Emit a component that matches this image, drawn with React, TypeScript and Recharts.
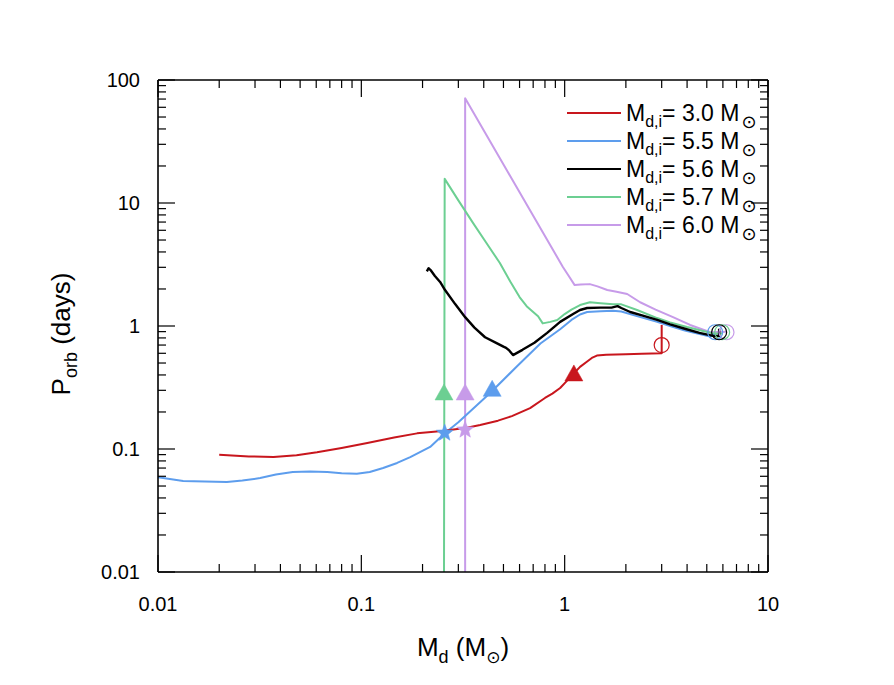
import React from 'react';
import { ComposedChart, Line, Scatter, XAxis, YAxis, Legend } from 'recharts';

const FONT = '"Liberation Sans", Arial, "DejaVu Sans", sans-serif';

// ---- tick values ----
const xTicks = [0.01, 0.02, 0.03, 0.04, 0.05, 0.06, 0.07, 0.08, 0.09, 0.1, 0.2, 0.3, 0.4, 0.5, 0.6, 0.7, 0.8, 0.9, 1, 2, 3, 4, 5, 6, 7, 8, 9, 10];
const yTicks = [0.01, 0.02, 0.03, 0.04, 0.05, 0.06, 0.07, 0.08, 0.09, 0.1, 0.2, 0.3, 0.4, 0.5, 0.6, 0.7, 0.8, 0.9, 1, 2, 3, 4, 5, 6, 7, 8, 9, 10, 20, 30, 40, 50, 60, 70, 80, 90, 100];

// ---- legend ----
const legendMasses = ['3.0', '5.5', '5.6', '5.7', '6.0'];
const seriesColors = ['#c8161d', '#5d9ded', '#000000', '#6ccf92', '#c79be9'];

// ---- tracks (Md [Msun], Porb [days]) ----
const track30 = [
  { x: 3.0, y: 1.02 }, { x: 3.0, y: 0.7 }, { x: 3.0, y: 0.6 }, { x: 2.4, y: 0.595 }, { x: 2.0, y: 0.59 },
  { x: 1.6, y: 0.585 }, { x: 1.44, y: 0.575 }, { x: 1.36, y: 0.55 }, { x: 1.3, y: 0.52 }, { x: 1.19, y: 0.465 },
  { x: 1.1, y: 0.405 }, { x: 1.02, y: 0.355 }, { x: 0.95, y: 0.313 }, { x: 0.87, y: 0.282 }, { x: 0.8, y: 0.26 },
  { x: 0.676, y: 0.215 }, { x: 0.55, y: 0.185 }, { x: 0.47, y: 0.17 }, { x: 0.384, y: 0.157 }, { x: 0.33, y: 0.149 },
  { x: 0.25, y: 0.14 }, { x: 0.188, y: 0.134 }, { x: 0.145, y: 0.124 }, { x: 0.107, y: 0.112 }, { x: 0.08, y: 0.102 },
  { x: 0.0605, y: 0.094 }, { x: 0.048, y: 0.089 }, { x: 0.037, y: 0.086 }, { x: 0.028, y: 0.087 }, { x: 0.02, y: 0.09 },
];
const track55 = [
  { x: 5.5, y: 0.86 }, { x: 5.2, y: 0.82 }, { x: 4.5, y: 0.87 }, { x: 3.9, y: 0.92 }, { x: 3.3, y: 1.0 },
  { x: 2.85, y: 1.08 }, { x: 2.2, y: 1.22 }, { x: 1.9, y: 1.31 }, { x: 1.73, y: 1.33 }, { x: 1.5, y: 1.32 },
  { x: 1.29, y: 1.3 }, { x: 1.19, y: 1.24 }, { x: 1.08, y: 1.12 }, { x: 0.95, y: 0.94 }, { x: 0.76, y: 0.72 },
  { x: 0.59, y: 0.48 }, { x: 0.43, y: 0.285 }, { x: 0.3, y: 0.165 }, { x: 0.258, y: 0.135 }, { x: 0.218, y: 0.104 },
  { x: 0.174, y: 0.086 }, { x: 0.15, y: 0.077 }, { x: 0.128, y: 0.07 }, { x: 0.11, y: 0.065 }, { x: 0.095, y: 0.063 },
  { x: 0.08, y: 0.0635 }, { x: 0.068, y: 0.065 }, { x: 0.056, y: 0.0655 }, { x: 0.046, y: 0.065 }, { x: 0.038, y: 0.062 },
  { x: 0.0318, y: 0.058 }, { x: 0.026, y: 0.0555 }, { x: 0.0218, y: 0.054 }, { x: 0.017, y: 0.0545 }, { x: 0.0133, y: 0.055 },
  { x: 0.01, y: 0.059 },
];
const track56 = [
  { x: 5.75, y: 0.95 }, { x: 5.75, y: 0.83 }, { x: 5.37, y: 0.83 }, { x: 4.6, y: 0.88 }, { x: 3.9, y: 0.95 },
  { x: 3.3, y: 1.03 }, { x: 2.85, y: 1.12 }, { x: 2.4, y: 1.22 }, { x: 2.1, y: 1.3 }, { x: 1.9, y: 1.4 },
  { x: 1.82, y: 1.45 }, { x: 1.7, y: 1.41 }, { x: 1.5, y: 1.41 }, { x: 1.29, y: 1.4 }, { x: 1.19, y: 1.35 },
  { x: 1.1, y: 1.25 }, { x: 0.95, y: 1.08 }, { x: 0.82, y: 0.88 }, { x: 0.71, y: 0.73 }, { x: 0.62, y: 0.64 },
  { x: 0.557, y: 0.58 }, { x: 0.535, y: 0.63 }, { x: 0.515, y: 0.665 }, { x: 0.5, y: 0.68 }, { x: 0.46, y: 0.73 },
  { x: 0.406, y: 0.81 }, { x: 0.36, y: 0.97 }, { x: 0.324, y: 1.18 }, { x: 0.29, y: 1.5 }, { x: 0.258, y: 1.96 },
  { x: 0.244, y: 2.28 }, { x: 0.23, y: 2.55 }, { x: 0.219, y: 2.85 }, { x: 0.214, y: 2.95 }, { x: 0.21, y: 2.78 },
];
const track57 = [
  { x: 5.95, y: 0.87 }, { x: 5.37, y: 0.87 }, { x: 4.0, y: 0.98 }, { x: 3.3, y: 1.07 }, { x: 2.85, y: 1.16 },
  { x: 2.27, y: 1.35 }, { x: 1.9, y: 1.5 }, { x: 1.73, y: 1.5 }, { x: 1.5, y: 1.53 }, { x: 1.33, y: 1.56 },
  { x: 1.19, y: 1.48 }, { x: 1.08, y: 1.36 }, { x: 1.0, y: 1.25 }, { x: 0.92, y: 1.12 }, { x: 0.85, y: 1.08 },
  { x: 0.78, y: 1.05 }, { x: 0.74, y: 1.2 }, { x: 0.7, y: 1.3 }, { x: 0.65, y: 1.45 }, { x: 0.6, y: 1.72 },
  { x: 0.54, y: 2.3 }, { x: 0.48, y: 3.25 }, { x: 0.41, y: 4.8 }, { x: 0.354, y: 6.9 }, { x: 0.3, y: 10.5 },
  { x: 0.257, y: 15.7 }, { x: 0.255, y: 0.01 },
];
const track60 = [
  { x: 6.25, y: 0.9 }, { x: 5.2, y: 0.89 }, { x: 4.14, y: 1.02 }, { x: 3.41, y: 1.18 }, { x: 2.8, y: 1.36 },
  { x: 2.35, y: 1.56 }, { x: 2.03, y: 1.82 }, { x: 1.8, y: 1.9 }, { x: 1.62, y: 1.96 }, { x: 1.45, y: 2.1 },
  { x: 1.33, y: 2.19 }, { x: 1.2, y: 2.17 }, { x: 1.12, y: 2.15 }, { x: 1.04, y: 2.6 }, { x: 0.98, y: 3.02 },
  { x: 0.324, y: 71 }, { x: 0.324, y: 0.01 },
];

// ---- markers ----
const triangles30 = [{ x: 1.11, y: 0.4 }];
const triangles55 = [{ x: 0.44, y: 0.3 }];
const triangles57 = [{ x: 0.255, y: 0.28 }];
const triangles60 = [{ x: 0.324, y: 0.28 }];
const stars55 = [{ x: 0.257, y: 0.135 }];
const stars60 = [{ x: 0.324, y: 0.143 }];
const circles30 = [{ x: 3.0, y: 0.7 }];
const circles55 = [{ x: 5.5, y: 0.89 }];
const circles56 = [{ x: 5.75, y: 0.89 }];
const circles57 = [{ x: 5.95, y: 0.89 }];
const circles60 = [{ x: 6.25, y: 0.89 }];

const tracks = [track30, track55, track56, track57, track60];

const MAJ = 17;
const MIN = 8;
const isMajor = (v: number) => Math.abs(Math.log10(v) - Math.round(Math.log10(v))) < 1e-6;
const fmt = (v: number) => String(Number(v.toPrecision(3)));

const BottomTick = (p: any) => {
  const { x, y, payload } = p;
  const v = payload.value;
  const m = isMajor(v);
  return (
    <g>
      <line x1={x} x2={x} y1={y} y2={y - (m ? MAJ : MIN)} stroke="#000" strokeWidth={1.2} />
      {m && (
        <text x={x} y={y + 39} textAnchor="middle" fontSize={20} fontFamily={FONT} fill="#000">
          {fmt(v)}
        </text>
      )}
    </g>
  );
};
const TopTick = (p: any) => {
  const { x, y, payload } = p;
  const m = isMajor(payload.value);
  return <line x1={x} x2={x} y1={y} y2={y + (m ? MAJ : MIN)} stroke="#000" strokeWidth={1.2} />;
};
const LeftTick = (p: any) => {
  const { x, y, payload } = p;
  const v = payload.value;
  const m = isMajor(v);
  return (
    <g>
      <line x1={x} x2={x + (m ? MAJ : MIN)} y1={y} y2={y} stroke="#000" strokeWidth={1.2} />
      {m && (
        <text x={x - 18} y={y + 7} textAnchor="end" fontSize={20} fontFamily={FONT} fill="#000">
          {fmt(v)}
        </text>
      )}
    </g>
  );
};
const RightTick = (p: any) => {
  const { x, y, payload } = p;
  const m = isMajor(payload.value);
  return <line x1={x} x2={x - (m ? MAJ : MIN)} y1={y} y2={y} stroke="#000" strokeWidth={1.2} />;
};

const triangleShape = (color: string) => (p: any) => {
  const { cx, cy } = p;
  return <polygon points={`${cx},${cy - 10} ${cx - 9},${cy + 6} ${cx + 9},${cy + 6}`} fill={color} stroke={color} strokeWidth={0.5} />;
};
const starShape = (color: string) => (p: any) => {
  const { cx, cy } = p;
  const pts: string[] = [];
  for (let i = 0; i < 10; i++) {
    const r = i % 2 === 0 ? 9 : 3.8;
    const a = -Math.PI / 2 + (i * Math.PI) / 5;
    pts.push(`${cx + r * Math.cos(a)},${cy + r * Math.sin(a)}`);
  }
  return <polygon points={pts.join(' ')} fill={color} stroke={color} strokeWidth={0.5} />;
};
const circleShape = (color: string) => (p: any) => {
  const { cx, cy } = p;
  return <circle cx={cx} cy={cy} r={7.5} fill="none" stroke={color} strokeWidth={1.2} />;
};

const XTitle = (p: any) => {
  const vb = p.viewBox;
  const cx = vb.x + vb.width / 2;
  return (
    <text x={cx} y={vb.y + 84} textAnchor="middle" fontSize={26} fontFamily={FONT} fill="#000">
      M<tspan fontSize={18} dy={7}>d</tspan>
      <tspan dy={-7}> (M</tspan>
      <tspan fontSize={17} dy={7}>⊙</tspan>
      <tspan dy={-7}>)</tspan>
    </text>
  );
};
const YTitle = (p: any) => {
  const vb = p.viewBox;
  const cx = 62;
  const cy = vb.y + vb.height / 2 + 8;
  return (
    <text x={cx} y={cy} textAnchor="middle" fontSize={26} fontFamily={FONT} fill="#000" transform={`rotate(-90, ${cx}, ${cy})`}>
      P<tspan fontSize={18} dy={7}>orb</tspan>
      <tspan dy={-7}> (days)</tspan>
    </text>
  );
};

const renderLegend = () => (
  <div style={{ fontFamily: FONT, fontSize: 23, color: '#000' }}>
    {legendMasses.map((m, i) => (
      <div key={m} style={{ display: 'flex', alignItems: 'center', height: 28, lineHeight: '28px' }}>
        <svg width={54} height={6} style={{ display: 'block' }}>
          <line x1={0} x2={54} y1={3} y2={3} stroke={seriesColors[i]} strokeWidth={2.2} />
        </svg>
        <span style={{ marginLeft: 5, whiteSpace: 'nowrap' }}>
          M<sub style={{ fontSize: 16, lineHeight: 0, verticalAlign: -6 }}>d,i</sub>= {m} M
          <sub style={{ fontSize: 18, lineHeight: 0, verticalAlign: -7, marginLeft: 2 }}>⊙</sub>
        </span>
      </div>
    ))}
  </div>
);

export default function App() {
  return (
    <ComposedChart width={880} height={670} margin={{ top: 71, right: 119, bottom: 46, left: 90 }}>
      <XAxis
        xAxisId="b"
        dataKey="x"
        type="number"
        scale="log"
        domain={[0.01, 10]}
        allowDataOverflow
        ticks={xTicks}
        interval={0}
        tickSize={0}
        tickMargin={0}
        tickLine={false}
        tick={<BottomTick />}
        axisLine={{ stroke: '#000', strokeWidth: 1.6 }}
        height={60}
        label={<XTitle />}
      />
      <XAxis
        xAxisId="t"
        orientation="top"
        dataKey="x"
        type="number"
        scale="log"
        domain={[0.01, 10]}
        allowDataOverflow
        ticks={xTicks}
        interval={0}
        tickSize={0}
        tickMargin={0}
        tickLine={false}
        tick={<TopTick />}
        axisLine={{ stroke: '#000', strokeWidth: 1.6 }}
        height={1}
      />
      <YAxis
        yAxisId="l"
        type="number"
        scale="log"
        domain={[0.01, 100]}
        allowDataOverflow
        ticks={yTicks}
        interval={0}
        tickSize={0}
        tickMargin={0}
        tickLine={false}
        tick={<LeftTick />}
        axisLine={{ stroke: '#000', strokeWidth: 1.6 }}
        width={60}
        label={<YTitle />}
      />
      <YAxis
        yAxisId="r"
        orientation="right"
        type="number"
        scale="log"
        domain={[0.01, 100]}
        allowDataOverflow
        ticks={yTicks}
        interval={0}
        tickSize={0}
        tickMargin={0}
        tickLine={false}
        tick={<RightTick />}
        axisLine={{ stroke: '#000', strokeWidth: 1.6 }}
        width={1}
      />
      {[4, 3, 1, 0, 2].map((i) => (
        <Line
          key={i}
          xAxisId="b"
          yAxisId="l"
          data={tracks[i]}
          dataKey="y"
          type="linear"
          stroke={seriesColors[i]}
          strokeWidth={i === 2 ? 2.4 : 2}
          strokeLinejoin="round"
          dot={false}
          activeDot={false}
          isAnimationActive={false}
          legendType="none"
        />
      ))}
      <Scatter xAxisId="b" yAxisId="l" data={triangles57} dataKey="y" shape={triangleShape(seriesColors[3])} isAnimationActive={false} />
      <Scatter xAxisId="b" yAxisId="l" data={triangles60} dataKey="y" shape={triangleShape(seriesColors[4])} isAnimationActive={false} />
      <Scatter xAxisId="b" yAxisId="l" data={triangles55} dataKey="y" shape={triangleShape(seriesColors[1])} isAnimationActive={false} />
      <Scatter xAxisId="b" yAxisId="l" data={triangles30} dataKey="y" shape={triangleShape(seriesColors[0])} isAnimationActive={false} />
      <Scatter xAxisId="b" yAxisId="l" data={stars55} dataKey="y" shape={starShape(seriesColors[1])} isAnimationActive={false} />
      <Scatter xAxisId="b" yAxisId="l" data={stars60} dataKey="y" shape={starShape(seriesColors[4])} isAnimationActive={false} />
      <Scatter xAxisId="b" yAxisId="l" data={circles30} dataKey="y" shape={circleShape(seriesColors[0])} isAnimationActive={false} />
      <Scatter xAxisId="b" yAxisId="l" data={circles60} dataKey="y" shape={circleShape(seriesColors[4])} isAnimationActive={false} />
      <Scatter xAxisId="b" yAxisId="l" data={circles57} dataKey="y" shape={circleShape(seriesColors[3])} isAnimationActive={false} />
      <Scatter xAxisId="b" yAxisId="l" data={circles55} dataKey="y" shape={circleShape(seriesColors[1])} isAnimationActive={false} />
      <Scatter xAxisId="b" yAxisId="l" data={circles56} dataKey="y" shape={circleShape(seriesColors[2])} isAnimationActive={false} />
      <Legend
        layout="horizontal"
        verticalAlign="middle"
        align="center"
        wrapperStyle={{ left: 559, top: 91, width: 260, height: 145 }}
        content={renderLegend}
      />
    </ComposedChart>
  );
}
